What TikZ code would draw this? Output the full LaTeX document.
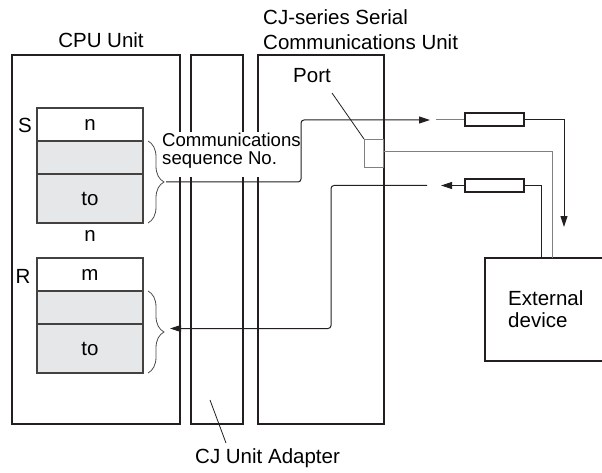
\documentclass[tikz,border=0pt]{standalone}
\usepackage{fontspec}
\setmainfont{Liberation Sans}
\usetikzlibrary{decorations.pathreplacing,arrows.meta}
\definecolor{dk}{HTML}{231F20}
\definecolor{cellgray}{HTML}{E6E7E8}
\definecolor{ln}{HTML}{808080}
\begin{document}
\begin{tikzpicture}[x=1pt,y=-1pt,
  unitbox/.style={draw=dk, line width=1.8pt, inner sep=0pt, anchor=north west},
  cell/.style={draw=dk!85, line width=1.2pt, minimum width=106pt, inner sep=0pt, font=\fontsize{20.5}{24}\selectfont},
  lbl/.style={inner sep=0pt, font=\fontsize{20.5}{25}\selectfont},
  small/.style={inner sep=0pt, font=\fontsize{18.6}{18.3}\selectfont},
  sig/.style={draw=dk, line width=1pt},
  gsig/.style={draw=ln, line width=1pt},
  tip/.style={-{Triangle[length=11pt,width=7pt]}},
  res/.style={draw=dk, line width=2pt, minimum width=59pt, minimum height=13pt, inner sep=0pt},
  brc/.style={draw=dk!80, line width=0.8pt, decorate, decoration={brace, amplitude=16pt}},
  leader/.style={draw=dk, line width=0.8pt}]
\useasboundingbox (0,0) rectangle (602,473);

% units
\node[unitbox, minimum width=168pt, minimum height=369pt] (cpu) at (11,54) {};
\node[unitbox, minimum width=52pt, minimum height=369pt] (adp) at (190,54) {};
\node[unitbox, minimum width=126pt, minimum height=369pt] (scu) at (257,54) {};

% titles
\node[lbl, anchor=base] (cpulbl) at (101,47.5) {CPU Unit};
\node[lbl, anchor=base west] (scul1) at (263,25) {CJ-series Serial};
\node[lbl, anchor=base west] (scul2) at (263,50) {Communications Unit};
\node[lbl, anchor=base west] (adplbl) at (195,463) {CJ Unit Adapter};

% S table
\node[cell, fill=white, minimum height=33pt] (s1) at (90,124.5) {n};
\node[cell, fill=cellgray, minimum height=33pt] (s2) at (90,157.5) {};
\node[cell, fill=cellgray, minimum height=49pt] (s3) at (90,198.5) {to};
\node[lbl] (slbl) at (25,125) {S};
\node[lbl] (nlbl) at (90,236) {n};

% R table
\node[cell, fill=white, minimum height=33pt] (r1) at (90,274.5) {m};
\node[cell, fill=cellgray, minimum height=33pt] (r2) at (90,307.5) {};
\node[cell, fill=cellgray, minimum height=49pt] (r3) at (90,348.5) {to};
\node[lbl] (rlbl) at (23,276) {R};

% braces
\draw[brc] (148,141) -- (148,223);
\draw[brc] (148,291) -- (148,373);
\coordinate (stip) at (166,182);
\coordinate (rtip) at (170,328.5);

% callout text on white ground
\fill[white] (160,132) rectangle (299,177);
\node[small, anchor=base west] (c1) at (162,146.7) {Communications};
\node[small, anchor=base west] (c2) at (162,165) {sequence No.};

% port
\node[draw=ln, line width=1pt, minimum width=19pt, minimum height=28pt, inner sep=0pt, anchor=north west] (port) at (364,139) {};
\node[lbl, anchor=base west] (portlbl) at (293,83) {Port};
\coordinate (portlead) at (332,93);
\draw[leader] (portlead) -- (port.north west);

% adapter leader
\coordinate (al1) at (210,400);
\coordinate (al2) at (226,443);
\draw[leader] (al1) -- (al2);

% resistors
\node[res] (res1) at (494.5,120) {};
\node[res] (res2) at (494.5,185.5) {};

% external device
\coordinate (extnw) at (485,258);
\draw[draw=dk, line width=1.8pt] (602,258) -- (extnw) -- (485,361) -- (602,361);
\node[lbl, anchor=base west] (ext1) at (508,305) {External};
\node[lbl, anchor=base west] (ext2) at (508,327) {device};

% send path
\coordinate (txend) at (430,120);
\coordinate (txgap) at (436,120);
\draw[sig, tip, rounded corners=3pt] (stip) -- (301,182) -- (301,120) -- (txend);
\draw[gsig] (txgap) -- (res1.west);
\coordinate (extin) at (564,227);
\draw[sig, tip] (res1.east) -- (564,120) -- (extin);

% port to device
\coordinate (portout) at (383,152);
\draw[gsig] (portout) -- (552,152) -- (552,258);

% receive path
\coordinate (rxtip) at (441,185.5);
\draw[sig] (541,258) -- (541,185.5) -- (res2.east);
\draw[sig, tip] (res2.west) -- (rxtip);
\coordinate (rxgap) at (427,185.5);
\draw[sig, tip, rounded corners=3pt] (rxgap) -- (331,185.5) -- (331,328.5) -- (rtip);
\end{tikzpicture}
\end{document}
